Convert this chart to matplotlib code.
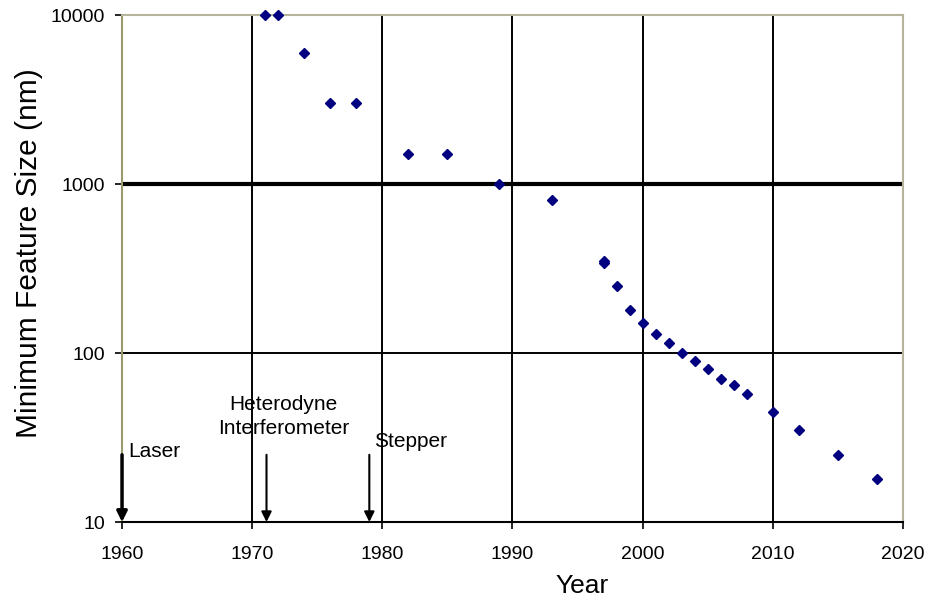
import matplotlib
matplotlib.use("Agg")
import matplotlib.pyplot as plt

plt.rcParams['font.family'] = ['Liberation Sans', 'DejaVu Sans']

years = [1971, 1972, 1974, 1976, 1978, 1982, 1985, 1989, 1993, 1997, 1997,
         1998, 1999, 2000, 2001, 2002, 2003, 2004, 2005, 2006, 2007, 2008,
         2010, 2012, 2015, 2018]
feature_nm = [10000, 10000, 6000, 3000, 3000, 1500, 1500, 1000, 800, 350, 340,
              250, 180, 150, 130, 115, 100, 90, 80, 70, 65, 57,
              45, 35, 25, 18]

x_ticks = [1960, 1970, 1980, 1990, 2000, 2010, 2020]
y_ticks = [10, 100, 1000, 10000]
y_tick_labels = ['10', '100', '1000', '10000']

events = ['Laser', 'Heterodyne\nInterferometer', 'Stepper']
event_years = [1960, 1971.1, 1979]

fig = plt.figure(figsize=(9.28, 6.06), dpi=100)
ax = fig.add_axes([0.1315, 0.1386, 0.8415, 0.8366])

ax.set_yscale('log')
ax.set_xlim(1960, 2020)
ax.set_ylim(10, 10000)

# grid
for xv in x_ticks[1:-1]:
    ax.axvline(xv, color='black', lw=1.4, zorder=1)
for yv in y_ticks:
    ax.axhline(yv, color='black', lw=3.0 if yv == 1000 else 1.4, zorder=1)

ax.plot(years, feature_nm, linestyle='none', marker='D', markersize=5,
        color='#000080', zorder=3, clip_on=False)

ax.set_xticks(x_ticks)
ax.set_yticks(y_ticks)
ax.set_yticklabels(y_tick_labels)
ax.minorticks_off()
ax.tick_params(axis='both', direction='out', length=5, width=1.2,
               labelsize=14, colors='black')
ax.tick_params(axis='x', pad=12)
ax.tick_params(axis='y', pad=7)

for sp in ['top', 'right']:
    ax.spines[sp].set_color('#b5b59c')
    ax.spines[sp].set_linewidth(1.5)
ax.spines['left'].set_color('#9a9a70')
ax.spines['left'].set_linewidth(1.5)
ax.spines['bottom'].set_color('black')
ax.spines['bottom'].set_linewidth(1.5)

fig.text(582 / 928, 1 - 586 / 606, 'Year', fontsize=19,
         ha='center', va='center')
fig.text(29 / 928, 1 - 253 / 606, 'Minimum Feature Size (nm)', fontsize=21.5,
         ha='center', va='center', rotation=90)

# arrows
for i, ey in enumerate(event_years):
    ax.annotate('', xy=(ey, 10), xytext=(ey, 25),
                arrowprops=dict(arrowstyle='-|>,head_length=0.6,head_width=0.3',
                                color='black', lw=2.5 if i == 0 else 1.5,
                                shrinkA=0, shrinkB=0),
                annotation_clip=False, zorder=4)

ax.text(1960.45, 26, events[0], fontsize=15, ha='left', va='center')
ax.text(1972.4, 42, events[1], fontsize=15, ha='center', va='center',
        linespacing=1.3)
ax.text(1979.4, 30, events[2], fontsize=15, ha='left', va='center')

fig.savefig('out.png', dpi=100)
